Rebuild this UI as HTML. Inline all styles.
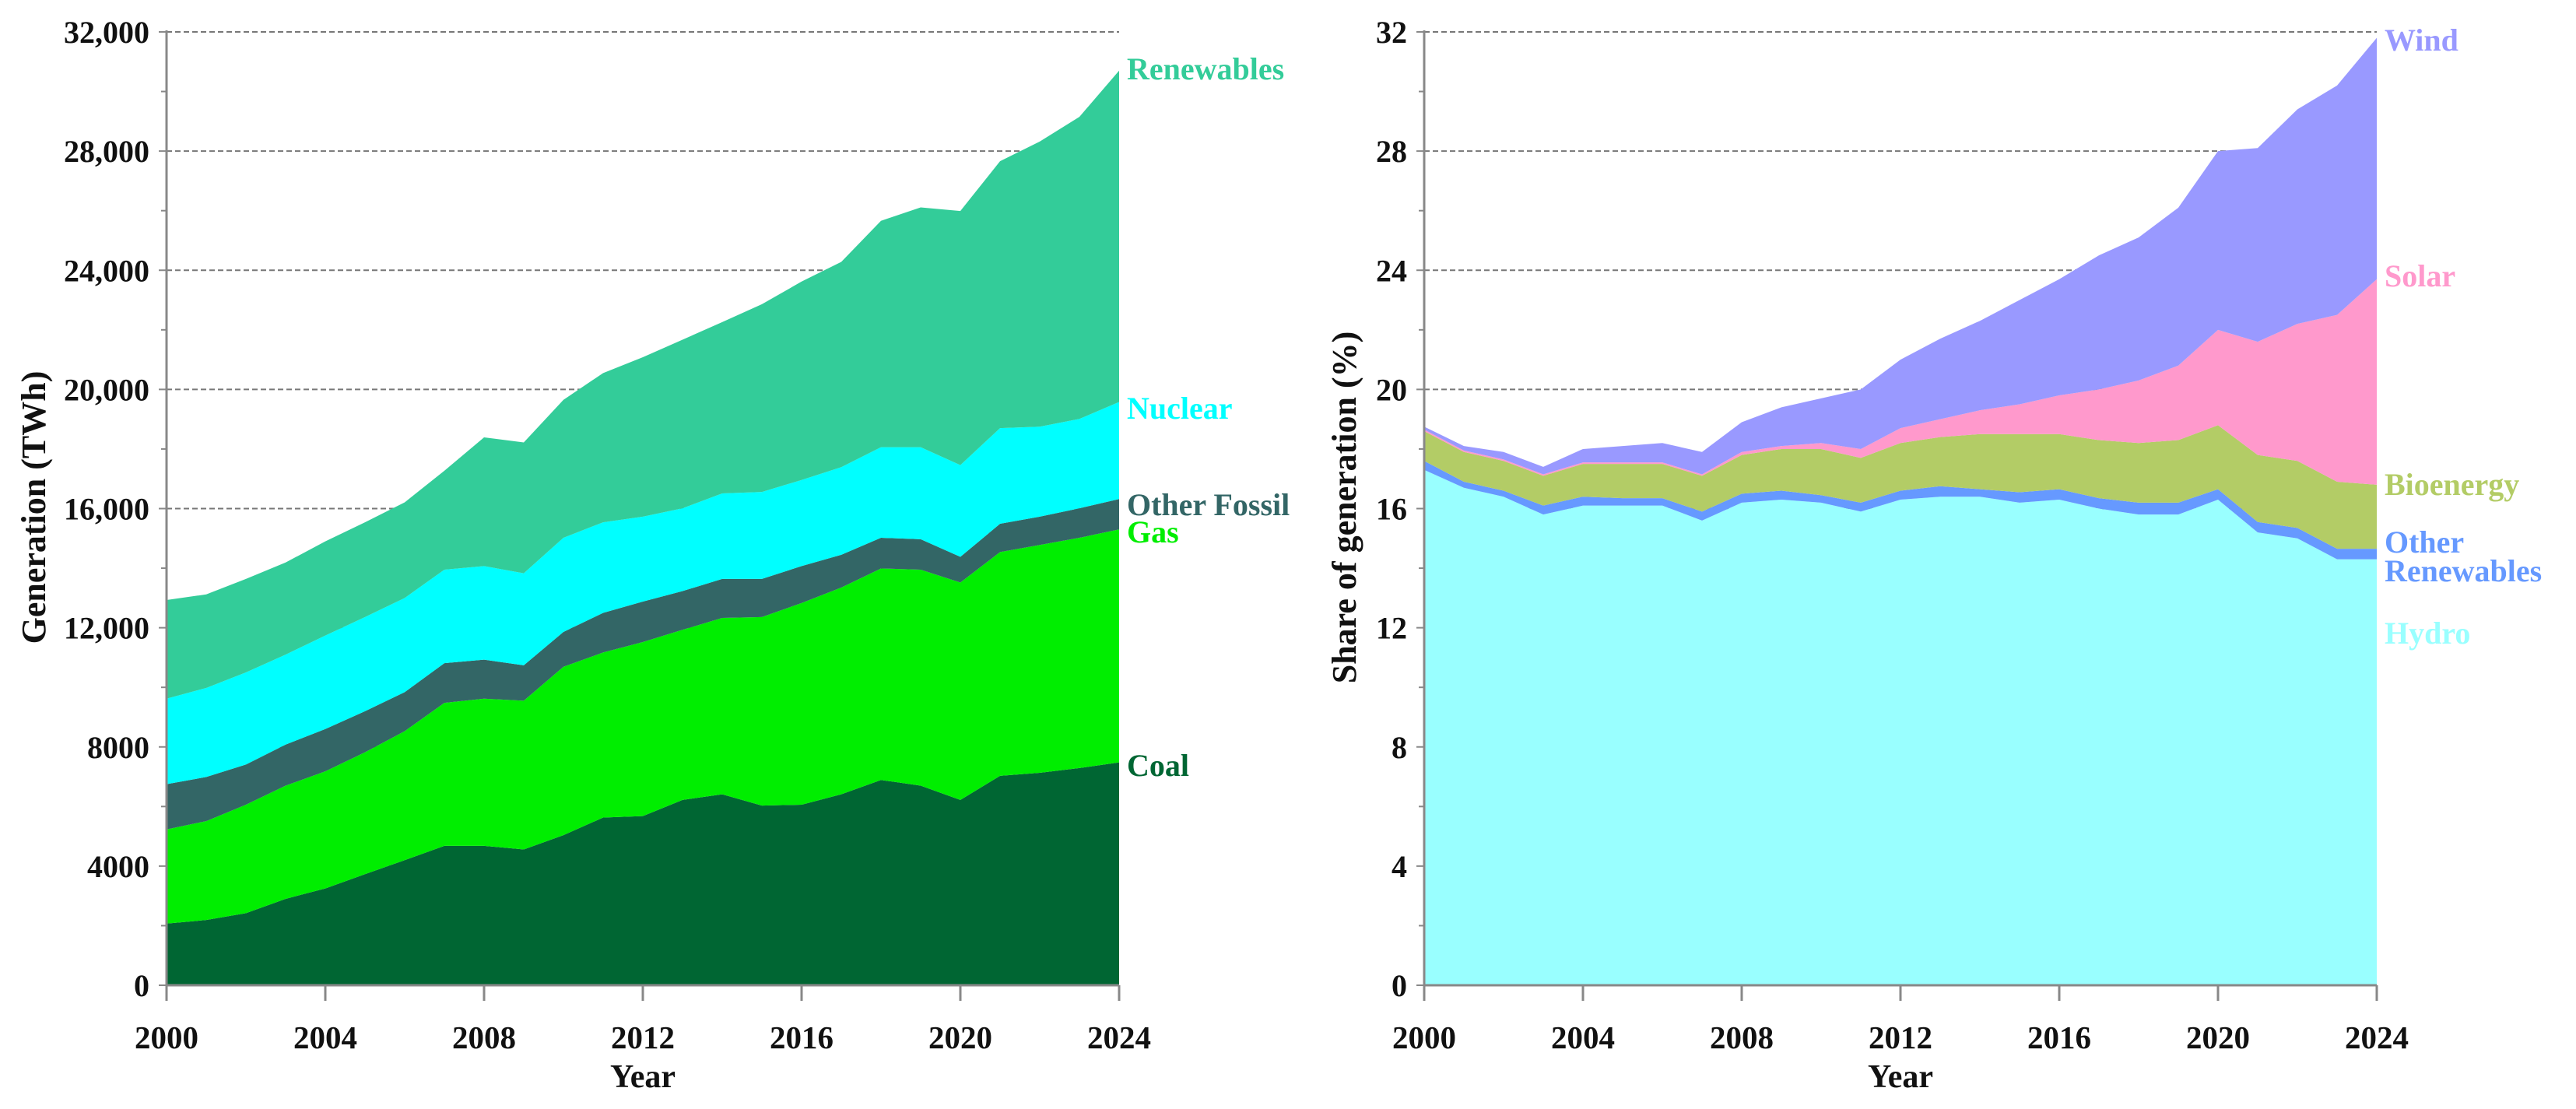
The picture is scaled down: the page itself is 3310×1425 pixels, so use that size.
<!DOCTYPE html>
<html><head><meta charset="utf-8">
<style>
html,body{margin:0;padding:0;background:#fff;}
svg{display:block;font-family:"Liberation Serif",serif;font-weight:bold;}
</style></head>
<body>
<svg id="chart" width="3310" height="1425" viewBox="0 0 3310 1425" xmlns="http://www.w3.org/2000/svg"></svg>
<script>
const years = [2000,2001,2002,2003,2004,2005,2006,2007,2008,2009,2010,2011,2012,2013,2014,2015,2016,2017,2018,2019,2020,2021,2022,2023,2024];
// Left chart: cumulative tops (TWh)
const coalTop = [2070,2190,2420,2900,3250,3730,4200,4680,4680,4560,5040,5630,5680,6220,6410,6030,6060,6410,6890,6700,6220,7030,7130,7290,7480];
const gasTop = [5230,5510,6060,6700,7180,7820,8530,9480,9620,9550,10690,11170,11520,11930,12330,12360,12830,13350,13990,13950,13520,14540,14780,15020,15300];
const otherFossilTop = [6750,6990,7410,8080,8600,9200,9840,10810,10930,10740,11860,12500,12880,13230,13640,13640,14070,14450,15020,14970,14380,15490,15730,16010,16320];
const nuclearTop = [9620,9980,10500,11100,11740,12360,13000,13950,14070,13830,15020,15540,15730,16010,16510,16560,16960,17390,18060,18060,17460,18700,18750,19010,19580];
const renewablesTop = [12930,13120,13640,14190,14900,15540,16210,17270,18390,18220,19650,20550,21080,21670,22260,22860,23620,24280,25660,26110,25990,27660,28320,29150,30700];
const leftTicks = ["0","4000","8000","12,000","16,000","20,000","24,000","28,000","32,000"];
const leftTickVals = [0,4000,8000,12000,16000,20000,24000,28000,32000];
// Right chart: cumulative tops (% share)
const hydroTop = [17.3,16.7,16.4,15.8,16.1,16.1,16.1,15.6,16.2,16.3,16.2,15.9,16.3,16.4,16.4,16.2,16.3,16.0,15.8,15.8,16.3,15.2,15.0,14.3,14.3];
const otherRenTop = [17.6,16.9,16.6,16.1,16.4,16.35,16.35,15.9,16.5,16.6,16.45,16.2,16.6,16.75,16.65,16.55,16.65,16.35,16.2,16.2,16.65,15.55,15.35,14.65,14.65];
const bioTop = [18.6,17.9,17.6,17.1,17.5,17.5,17.5,17.1,17.8,18.0,18.0,17.7,18.2,18.4,18.5,18.5,18.5,18.3,18.2,18.3,18.8,17.8,17.6,16.9,16.8];
const solarTop = [18.65,17.95,17.65,17.15,17.55,17.55,17.55,17.15,17.9,18.1,18.2,18.0,18.7,19.0,19.3,19.5,19.8,20.0,20.3,20.8,22.0,21.6,22.2,22.5,23.7];
const windTop = [18.75,18.1,17.9,17.4,18.0,18.1,18.2,17.9,18.9,19.4,19.7,20.0,21.0,21.7,22.3,23.0,23.7,24.5,25.1,26.1,28.0,28.1,29.4,30.2,31.8];
const rightTicks = ["0","4","8","12","16","20","24","28","32"];
const rightTickVals = [0,4,8,12,16,20,24,28,32];
const xTickYears = [2000,2004,2008,2012,2016,2020,2024];

const NS = "http://www.w3.org/2000/svg";
const svg = document.getElementById("chart");
function el(tag, attrs, parent){ const e=document.createElementNS(NS,tag); for(const k in attrs) e.setAttribute(k,attrs[k]); (parent||svg).appendChild(e); return e; }

function drawPanel(cfg){
  const g = el("g",{});
  
  
  const x0=cfg.x0, x1=cfg.x0+1224, yB=1266, yT=41;
  const xs = yr => x0 + (yr-2000)/24*(x1-x0);
  const ys = v => yB - v/cfg.max*(yB-yT);
  // gridlines
  cfg.tickVals.forEach((v,i)=>{
    if(v>0){
      const l = el("line",{x1:x0,x2:x1,y1:ys(v),y2:ys(v),stroke:"#777","stroke-width":2,"stroke-dasharray":"7,4"},g);
      
      
    }
  });
  // areas
  let prev = years.map(()=>0);
  cfg.series.forEach(s=>{
    let d = "M"+years.map((y,i)=>xs(y)+","+ys(s.vals[i])).join("L");
    for(let i=years.length-1;i>=0;i--) d += "L"+xs(years[i])+","+ys(prev[i]);
    d += "Z";
    const p = el("path",{d:d,fill:s.color},g);
    
    
    prev = s.vals;
    const t = el("text",{x:x1+10,y:s.ly,fill:s.color,"font-size":40},g);
    
    
    if(s.lines){ s.lines.forEach((ln,k)=>{ const ts=el("tspan",{x:x1+10,dy:k?37:0},t); ts.textContent=ln; }); }
    else t.textContent = s.label;
  });
  // axes
  const ya = el("line",{x1:x0,x2:x0,y1:yT-2,y2:yB,stroke:"#888","stroke-width":3},g);
   
  const xa = el("line",{x1:x0,x2:x1,y1:yB,y2:yB,stroke:"#888","stroke-width":3},g);
   
  // y ticks
  cfg.tickVals.forEach((v,i)=>{
    el("line",{x1:x0-10,x2:x0,y1:ys(v),y2:ys(v),stroke:"#888","stroke-width":2},g);
    if(i<cfg.tickVals.length-1){ const m=(v+cfg.tickVals[i+1])/2; el("line",{x1:x0-7,x2:x0,y1:ys(m),y2:ys(m),stroke:"#888","stroke-width":2},g); }
    const t = el("text",{x:x0-22,y:ys(v)+14,"text-anchor":"end","font-size":40,fill:"#111"},g);
    
    
    t.textContent = cfg.ticks[i];
  });
  xTickYears.forEach(yr=>{
    el("line",{x1:xs(yr),x2:xs(yr),y1:yB,y2:yB+20,stroke:"#888","stroke-width":3},g);
    const t = el("text",{x:xs(yr),y:1347,"text-anchor":"middle","font-size":41,fill:"#111"},g);
    
    
    t.textContent = yr;
  });
  const xt = el("text",{x:(x0+x1)/2,y:1397,"text-anchor":"middle","font-size":42,fill:"#111"},g);
   
  xt.textContent = "Year";
  const yt = el("text",{x:0,y:0,"text-anchor":"middle","font-size":44,fill:"#111",transform:"translate("+(cfg.titleX)+",652) rotate(-90)"},g);
   
  yt.textContent = cfg.yTitle;
}

drawPanel({name:"generation-chart",x0:214,max:32000,tickVals:leftTickVals,ticks:leftTicks,titleX:58,yTitle:"Generation (TWh)",
  series:[
    {id:"coal",label:"Coal",vals:coalTop,color:"#006633",ly:997},
    {id:"gas",label:"Gas",vals:gasTop,color:"#00ee00",ly:697},
    {id:"other-fossil",label:"Other Fossil",vals:otherFossilTop,color:"#336666",ly:662},
    {id:"nuclear",label:"Nuclear",vals:nuclearTop,color:"#00ffff",ly:538},
    {id:"renewables",label:"Renewables",vals:renewablesTop,color:"#33cc99",ly:102}
  ]});
drawPanel({name:"share-chart",x0:1830,max:32,tickVals:rightTickVals,ticks:rightTicks,titleX:1742,yTitle:"Share of generation (%)",
  series:[
    {id:"hydro",label:"Hydro",vals:hydroTop,color:"#99ffff",ly:827},
    {id:"other-renewables",lines:["Other","Renewables"],vals:otherRenTop,color:"#6699ff",ly:710},
    {id:"bioenergy",label:"Bioenergy",vals:bioTop,color:"#b3cc66",ly:636},
    {id:"solar",label:"Solar",vals:solarTop,color:"#ff99cc",ly:368},
    {id:"wind",label:"Wind",vals:windTop,color:"#9999ff",ly:65}
  ]});
</script>
</body></html>
